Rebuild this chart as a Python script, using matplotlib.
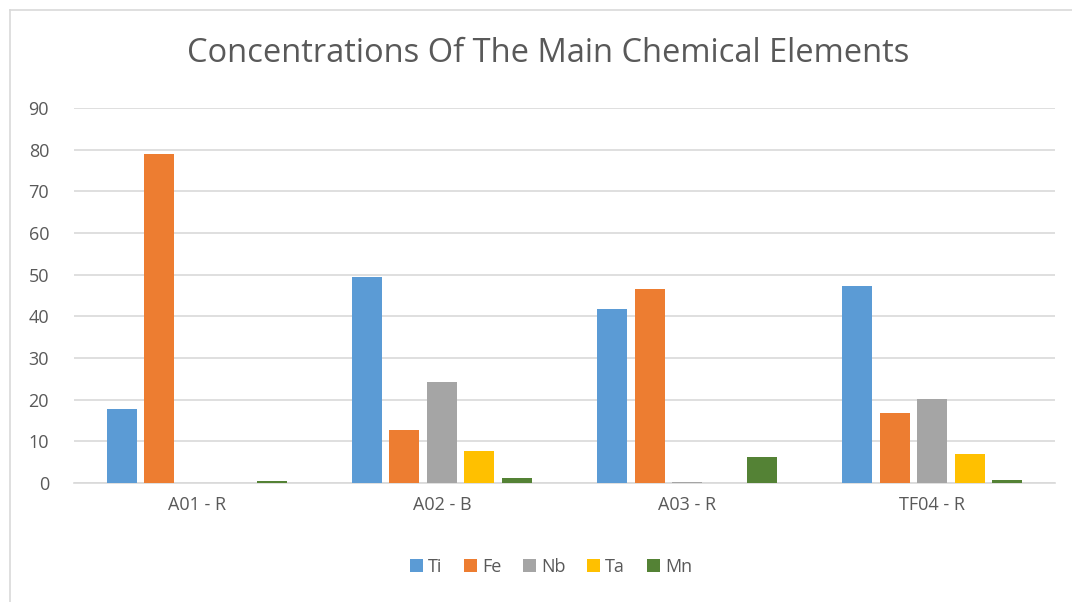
import numpy as np
import matplotlib.pyplot as plt
from matplotlib.lines import Line2D

categories = ["A01 - R", "A02 - B", "A03 - R", "TF04 - R"]
elements = ["Ti", "Fe", "Nb", "Ta", "Mn"]
ti = [17.8, 49.5, 41.8, 47.4]
fe = [79.0, 12.7, 46.6, 16.7]
nb = [0.0, 24.2, 0.2, 20.2]
ta = [0.0, 7.7, 0.0, 6.9]
mn = [0.5, 1.1, 6.3, 0.7]
series = [ti, fe, nb, ta, mn]
colors = ["#5B9BD5", "#ED7D31", "#A5A5A5", "#FFC000", "#548235"]

plt.rcParams['font.family'] = ['Open Sans', 'DejaVu Sans']
fig = plt.figure(figsize=(10.72, 6.02), dpi=100)
ax = fig.add_axes([74/1072, 1-483/602, (1055-74)/1072, (483-108)/602])

x = np.arange(len(categories))
step = 0.153
width = 0.122
for i, (vals, name, c) in enumerate(zip(series, elements, colors)):
    ax.bar(x + (i - 2) * step, vals, width, color=c, label=name, zorder=3)

ax.set_xlim(-0.5, len(categories) - 0.5)
ax.set_ylim(0, 90)
ax.set_yticks(range(0, 91, 10))
ax.set_xticks(x)
ax.set_xticklabels(categories)
ax.yaxis.grid(True, color="#D9D9D9", linewidth=1.2, zorder=0)
for s in ["top", "right", "left"]:
    ax.spines[s].set_visible(False)
ax.spines["bottom"].set_color("#D9D9D9")
ax.spines["bottom"].set_linewidth(1.2)
ax.tick_params(axis="both", length=0, labelsize=13, colors="#595959")
ax.tick_params(axis="y", pad=18)
ax.tick_params(axis="x", pad=9)

fig.text(548/1072, 1-53/602, "Concentrations Of The Main Chemical Elements",
         ha="center", va="center", fontsize=23.5, color="#595959")

ax.legend(loc="center", bbox_to_anchor=((551-74)/981, (483-567)/375), ncol=5,
          frameon=False, fontsize=13, handlelength=0.7, handleheight=0.7,
          handletextpad=0.3, columnspacing=1.2, labelcolor="#595959")

# chart border
fig.add_artist(Line2D([10/1072, 10/1072], [0, 1-10/602], color="#D9D9D9", linewidth=1.2))
fig.add_artist(Line2D([10/1072, 1], [1-10/602, 1-10/602], color="#D9D9D9", linewidth=1.2))

plt.savefig("out.png", dpi=100)
